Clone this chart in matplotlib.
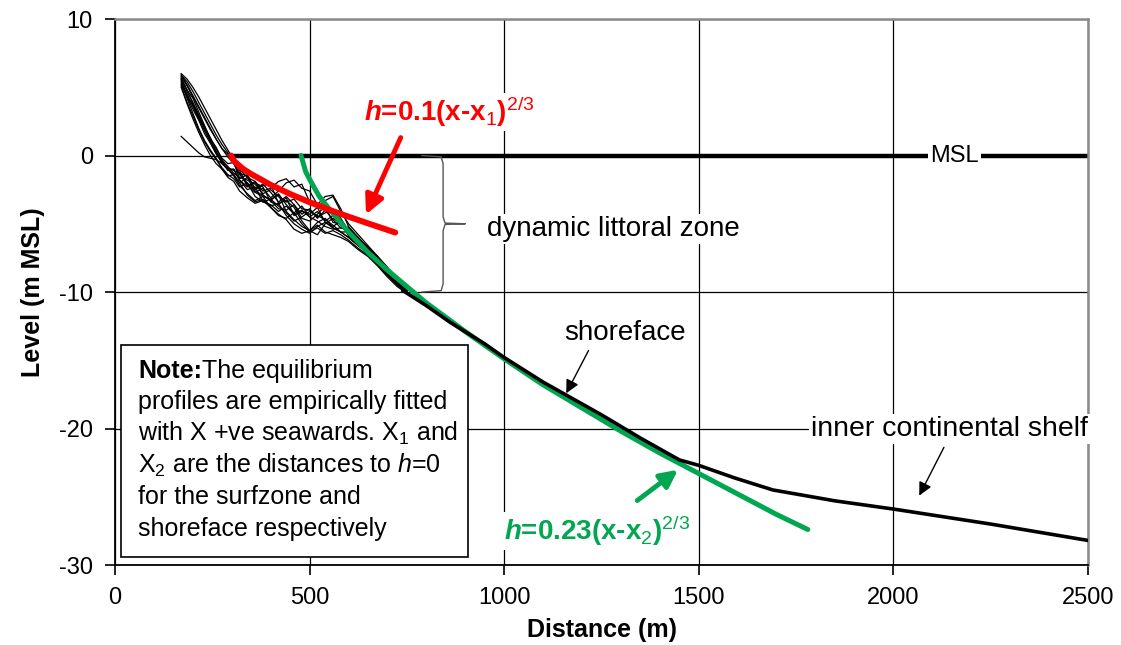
import matplotlib
matplotlib.use("Agg")
import matplotlib.pyplot as plt
from matplotlib.patches import Rectangle

plt.rcParams['font.family'] = 'Liberation Sans'
plt.rcParams['axes.unicode_minus'] = False
plt.rcParams['mathtext.fontset'] = 'custom'
plt.rcParams['mathtext.rm'] = 'Liberation Sans'
plt.rcParams['mathtext.it'] = 'Liberation Sans:italic'
plt.rcParams['mathtext.bf'] = 'Liberation Sans:bold'
plt.rcParams['mathtext.bfit'] = 'Liberation Sans:italic:bold'

survey_x = [170, 185, 200, 215, 230, 245, 260, 275, 290, 305, 320, 340, 360, 380,
            400, 420, 440, 460, 480, 500, 520, 540, 560, 580, 600, 625, 650, 675,
            700, 725, 750]
survey_levels = [
    [5.2, 4.3, 3.4, 2.6, 1.6, 0.9, 0.1, -0.5, -1.1, -1.0, -1.8, -2.3, -1.9, -2.9, -3.3, -2.8, -3.6, -4.2, -3.7, -4.5, -4.1, -4.8, -4.4, -5.1, -5.8, -6.4, -7.0, -7.8, -8.5, -9.3, -10.0],
    [5.9, 5.2, 4.4, 3.6, 2.8, 2.0, 1.2, 0.5, -0.1, -0.6, -1.3, -1.5, -2.4, -2.1, -2.7, -3.4, -3.0, -3.6, -4.3, -3.9, -4.6, -4.0, -4.7, -5.3, -5.4, -6.0, -6.8, -7.5, -8.3, -9.1, -9.9],
    [6.0, 5.6, 5.0, 4.3, 3.5, 2.7, 1.9, 1.1, 0.4, -0.3, -1.1, -2.2, -2.0, -2.3, -3.4, -3.6, -3.1, -4.4, -4.1, -4.3, -3.8, -4.9, -5.2, -4.8, -5.9, -6.5, -7.2, -7.9, -8.6, -9.3, -10.1],
    [5.0, 3.8, 2.7, 1.7, 0.8, 0.0, -0.6, -1.0, -1.5, -1.4, -2.0, -1.6, -2.7, -3.0, -3.2, -2.9, -4.1, -4.7, -5.2, -5.5, -4.9, -4.6, -5.3, -5.6, -6.0, -6.6, -7.1, -7.8, -8.6, -9.4, -10.0],
    [5.6, 4.7, 3.9, 3.0, 2.1, 1.3, 0.5, -0.2, -0.6, -0.5, -1.7, -1.4, -2.5, -2.2, -2.1, -3.5, -3.3, -3.8, -4.8, -5.5, -5.8, -5.0, -4.6, -5.0, -5.3, -6.1, -6.7, -7.4, -8.2, -9.0, -9.9],
    [5.4, 4.5, 3.6, 2.7, 1.8, 1.0, 0.2, -0.6, -1.0, -1.5, -2.2, -2.8, -3.3, -3.0, -3.8, -4.4, -4.6, -4.2, -5.0, -5.6, -5.3, -5.7, -5.5, -5.8, -6.2, -6.8, -7.3, -8.0, -8.8, -9.5, -10.1],
    [5.8, 5.1, 4.3, 3.5, 2.7, 1.9, 1.2, 0.5, 0.1, -0.3, -1.0, -1.6, -1.9, -2.6, -2.4, -1.9, -1.7, -2.3, -2.1, -3.4, -3.8, -3.3, -3.0, -4.1, -5.0, -5.8, -6.6, -7.4, -8.2, -9.0, -9.9],
    [5.1, 3.9, 2.9, 1.9, 1.0, 0.3, -0.3, -0.9, -1.4, -1.7, -2.3, -2.0, -3.0, -3.4, -3.6, -4.1, -3.7, -4.3, -4.0, -4.5, -4.8, -5.2, -5.4, -5.3, -5.5, -6.3, -6.9, -7.7, -8.5, -9.3, -10.0],
    [5.7, 4.8, 4.2, 3.2, 2.2, 1.2, 0.6, -0.3, -0.9, -1.1, -1.3, -2.2, -2.7, -2.4, -3.1, -2.6, -2.0, -1.8, -2.4, -2.6, -3.6, -3.0, -2.9, -3.9, -5.2, -6.0, -6.8, -7.5, -8.4, -9.2, -10.0],
    [5.3, 4.4, 3.7, 2.8, 2.0, 1.1, 0.3, -0.5, -1.0, -1.0, -1.8, -2.5, -2.3, -3.4, -3.2, -3.7, -4.2, -4.8, -4.5, -4.1, -4.4, -4.7, -5.1, -5.6, -5.6, -6.3, -7.0, -7.7, -8.6, -9.3, -10.1],
    [5.5, 4.2, 3.1, 2.0, 1.1, 0.4, -0.2, -1.0, -1.6, -1.9, -2.6, -3.1, -3.5, -3.3, -3.8, -4.3, -4.7, -5.4, -5.7, -5.5, -5.1, -5.6, -5.8, -6.0, -6.3, -6.9, -7.4, -8.1, -8.9, -9.6, -10.1],
    [1.4, 1.0, 0.6, 0.2, -0.1, -0.2, -0.3, -0.6, -1.0, -1.4, -2.0, -2.9, -3.4, -3.2, -3.7, -3.5, -4.4, -5.0, -5.4, -5.7, -5.2, -4.9, -5.3, -5.6, -6.0, -6.6, -7.2, -7.9, -8.7, -9.4, -10.0],
    [5.6, 4.8, 3.8, 2.9, 2.0, 1.2, 0.3, -0.4, -0.8, -1.3, -1.6, -1.8, -2.1, -2.8, -2.5, -3.0, -3.4, -3.2, -3.9, -4.0, -4.5, -4.2, -4.0, -4.6, -5.5, -6.1, -6.8, -7.6, -8.3, -9.1, -10.0],
    [5.9, 5.4, 4.7, 3.9, 3.1, 2.3, 1.5, 0.8, 0.2, -0.5, -1.4, -2.0, -2.6, -2.9, -3.3, -3.9, -4.0, -3.6, -4.6, -4.8, -4.3, -3.7, -4.9, -5.0, -5.7, -6.4, -7.1, -7.8, -8.5, -9.2, -10.0],
]

# deeper part of the profile (thick black line)
profile_x = [740, 800, 860, 950, 1000, 1100, 1250, 1350, 1450, 1500,
             1590, 1690, 1850, 2000, 2250, 2500]
profile_y = [-9.9, -11.0, -12.2, -13.8, -14.8, -16.6, -19.0, -20.7, -22.3,
             -22.7, -23.6, -24.5, -25.3, -25.9, -27.0, -28.2]

# surfzone equilibrium profile (red)
surf_x = [298, 305, 315, 330, 350, 400, 450, 500, 550, 600, 650, 720]
surf_y = [0.0, -0.37, -0.64, -1.0, -1.36, -2.15, -2.82, -3.42, -3.97,
          -4.48, -4.97, -5.64]

# shoreface equilibrium profile (green)
shore_x = [478, 490, 505, 525, 550, 600, 650, 700, 800, 900, 1000, 1100,
           1200, 1300, 1400, 1500, 1600, 1700, 1780]
shore_y = [0.0, -1.2, -2.0, -3.0, -3.9, -5.6, -7.1, -8.4, -10.8, -12.9,
           -14.9, -16.8, -18.5, -20.2, -21.8, -23.3, -24.8, -26.3, -27.4]

msl_x = [295, 2500]
msl_y = [0, 0]

RED = '#ff0000'
GREEN = '#00a650'

fig = plt.figure(figsize=(11.21, 6.45), dpi=100)
ax = fig.add_axes([0.1026, 0.124, 0.868, 0.8465])

ax.set_xlim(0, 2500)
ax.set_ylim(-30, 10)
ax.set_xticks(range(0, 2501, 500))
ax.set_yticks(range(-30, 11, 10))
ax.grid(True, color='black', lw=0.9)
ax.set_axisbelow(True)

for lev in survey_levels:
    ax.plot(survey_x, lev, color='black', lw=0.9, zorder=2)

ax.plot(msl_x, msl_y, color='black', lw=3.2, zorder=2)
ax.plot(shore_x, shore_y, color=GREEN, lw=3.6, solid_capstyle='round', zorder=3)
ax.plot(profile_x, profile_y, color='black', lw=2.6, zorder=3.5)
ax.plot(surf_x, surf_y, color=RED, lw=4.3, solid_capstyle='round', zorder=4)

white = dict(facecolor='white', edgecolor='none', pad=1.5)

ax.text(2156, 0, 'MSL', fontsize=17, ha='center', va='center', bbox=white, zorder=5)

# brace for the dynamic littoral zone
brace_x = [789, 838, 843, 843, 848, 900, 848, 843, 843, 838, 789]
brace_y = [0, -0.1, -0.6, -4.5, -4.95, -5.0, -5.05, -5.5, -9.4, -9.9, -10]
ax.plot(brace_x, brace_y, color='#555555', lw=1.0, zorder=4)
ax.text(956, -5.4, 'dynamic littoral zone', fontsize=20, ha='left', va='center',
        bbox=white, zorder=5)

ax.text(640, 3.2, r'$\mathbfit{h}$=0.1(x-x$_1$)$^{2/3}$', fontsize=20,
        fontweight='bold', color=RED, ha='left', va='center', bbox=white, zorder=5)
ax.annotate('', xy=(642, -4.5), xytext=(737, 1.5),
            arrowprops=dict(arrowstyle='-|>', color=RED, lw=3.5, mutation_scale=28),
            zorder=5)

ax.text(1000, -27.5, r'$\mathbfit{h}$=0.23(x-x$_2$)$^{2/3}$', fontsize=20,
        fontweight='bold', color=GREEN, ha='left', va='center', bbox=white, zorder=5)
ax.annotate('', xy=(1452, -22.9), xytext=(1336, -25.4),
            arrowprops=dict(arrowstyle='-|>', color=GREEN, lw=3.5, mutation_scale=26),
            zorder=5)

ax.text(1310, -13.0, 'shoreface', fontsize=20, ha='center', va='center', zorder=5)
ax.annotate('', xy=(1156, -17.6), xytext=(1220, -14.1),
            arrowprops=dict(arrowstyle='-|>', color='black', lw=1.0, mutation_scale=20),
            zorder=5)

ax.text(1788, -20.0, 'inner continental shelf', fontsize=20.5, ha='left', va='center',
        bbox=white, zorder=5)
ax.annotate('', xy=(2063, -25.1), xytext=(2133, -21.2),
            arrowprops=dict(arrowstyle='-|>', color='black', lw=1.0, mutation_scale=20),
            zorder=5)

# note box
ax.add_patch(Rectangle((14.6, -29.4), 892, 15.5, facecolor='white',
                       edgecolor='black', lw=1.2, zorder=4.5))
note_lines = [
    'The equilibrium',
    'profiles are empirically fitted',
    r'with X +ve seawards. X$_1$ and',
    r'X$_2$ are the distances to $h$=0',
    'for the surfzone and',
    'shoreface respectively',
]
note_head = ax.text(59, -15.75, 'Note:', fontsize=18, fontweight='bold',
                    ha='left', va='center', zorder=5)
ax.annotate(note_lines[0], xy=(1, 0), xycoords=note_head, fontsize=18,
            ha='left', va='bottom', zorder=5)
for i, line in enumerate(note_lines[1:], start=1):
    ax.text(59, -15.75 - i * 2.32, line, fontsize=18, ha='left', va='center', zorder=5)

ax.set_xlabel('Distance (m)', fontsize=18, fontweight='bold', labelpad=6)
ax.set_ylabel('Level (m MSL)', fontsize=18, fontweight='bold', labelpad=10)
ax.tick_params(direction='out', length=7, width=1.2, labelsize=17, pad=9)

for side in ['left', 'bottom']:
    ax.spines[side].set_color('black')
    ax.spines[side].set_linewidth(1.3)
for side in ['top', 'right']:
    ax.spines[side].set_color('#8a8a8a')
    ax.spines[side].set_linewidth(1.8)

fig.savefig('out.png', dpi=100)
